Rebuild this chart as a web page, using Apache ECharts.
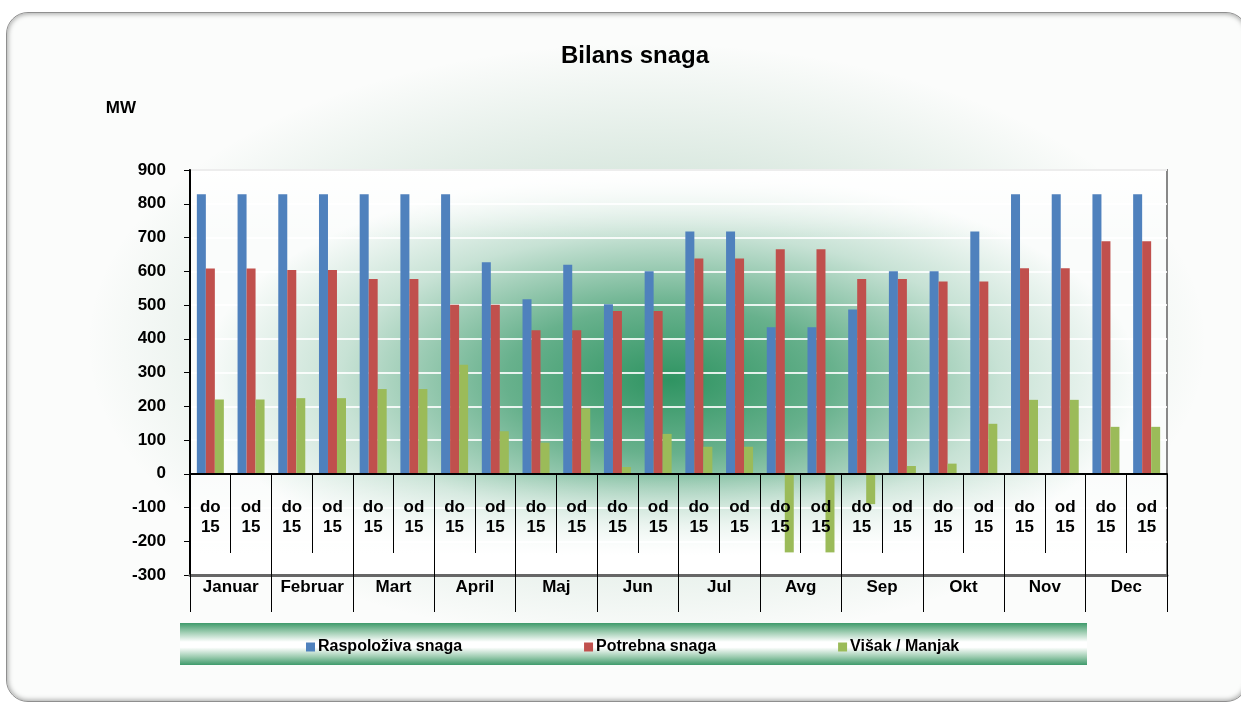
<!DOCTYPE html>
<html>
<head>
<meta charset="utf-8">
<title>Bilans snaga</title>
<script src="https://cdn.jsdelivr.net/npm/echarts@6/dist/echarts.min.js"></script>
<style>
  html, body { margin: 0; padding: 0; background: #fff; }
  #wrap { position: relative; width: 1241px; height: 706px; overflow: hidden; }
  #frame {
    position: absolute; left: 6px; top: 12px; width: 1240px; height: 688px;
    border-radius: 22px; border: 1px solid #8f8f8f;
    box-shadow: inset 0 0 5px 1px rgba(0,0,0,0.35);
    background:
      radial-gradient(ellipse 560px 300px at 640px 330px, rgba(60,140,95,0.45) 0%, rgba(60,140,95,0.22) 45%, rgba(255,255,255,0) 100%),
      #fbfcfb;
  }
  #plotbg {
    position: absolute; left: 190px; top: 170px; width: 977px; height: 405px;
    background:
      linear-gradient(to bottom, #fff 0px, rgba(255,255,255,0) 70px, rgba(255,255,255,0) 300px, #fff 385px),
      radial-gradient(ellipse 470px 210px at 480px 210px, #2f9462 0%, rgba(47,148,98,0.72) 35%, rgba(47,148,98,0.25) 70%, rgba(47,148,98,0) 100%),
      #fafcfb;
  }
  #legendbg {
    position: absolute; left: 180px; top: 623px; width: 907px; height: 42px;
    background: linear-gradient(to bottom, #3f9a6b 0%, #9fcdb2 22%, #ffffff 45%, #ffffff 58%, #9fcdb2 80%, #3f9a6b 100%);
  }
  #chart { position: absolute; left: 0; top: 0; width: 1241px; height: 706px; }
</style>
</head>
<body>
<div id="wrap">
  <div id="frame"></div>
  <div id="plotbg"></div>
  <div id="legendbg"></div>
  <div id="chart"></div>
</div>
<script>
// podaci
const months = ["Januar", "Februar", "Mart", "April", "Maj", "Jun", "Jul", "Avg", "Sep", "Okt", "Nov", "Dec"];
const halves = [];
months.forEach(function () { halves.push("do\n15", "od\n15"); });
const raspoloziva = [828, 828, 828, 828, 828, 828, 828, 627, 517, 619, 502, 600, 718, 718, 434, 434, 487, 600, 600, 718, 828, 828, 828, 828];
const potrebna = [608, 608, 604, 604, 577, 577, 501, 501, 425, 425, 482, 482, 638, 638, 665, 665, 577, 577, 570, 570, 609, 609, 689, 689];
const visak = [220, 220, 224, 224, 251, 251, 323, 126, 92, 194, 20, 118, 80, 80, -233, -233, -90, 23, 30, 148, 219, 219, 139, 139];

const font = "'Liberation Sans', Arial, sans-serif";

let myChart = echarts.init(document.getElementById("chart"), null, { renderer: "canvas" });
myChart.setOption({
  animation: false,
  color: ["#4F81BD", "#C0504D", "#9BBB59"],
  textStyle: { fontFamily: font },
  title: {
    text: "Bilans snaga",
    left: 556,
    top: 39,
    textStyle: { fontSize: 24, fontWeight: "bold", color: "#000", fontFamily: font }
  },
  legend: {
    left: 301,
    top: 634,
    icon: "rect",
    itemWidth: 9,
    itemHeight: 9,
    itemGap: 122,
    textStyle: { fontSize: 16, fontWeight: "bold", color: "#000", fontFamily: font, padding: [0, 0, 0, -2] },
    data: ["Raspoloživa snaga", "Potrebna snaga", "Višak / Manjak"]
  },
  grid: {
    left: 190,
    top: 170,
    width: 977,
    height: 405,
    show: true,
    backgroundColor: "transparent",
    borderColor: "#888888",
    borderWidth: 2
  },
  xAxis: [
    {
      // polovine mjeseca, os na nuli (-300 .. 0 = 101 px)
      type: "category",
      data: halves,
      position: "bottom",
      offset: -101,
      z: 5,
      axisLine: { show: true, onZero: false, lineStyle: { color: "#000", width: 2 } },
      axisTick: { show: true, interval: 0, length: 79, lineStyle: { color: "#000", width: 1 } },
      axisLabel: {
        interval: 0,
        margin: 23,
        fontSize: 17,
        fontWeight: "bold",
        lineHeight: 20,
        color: "#000",
        fontFamily: font
      }
    },
    {
      type: "category",
      data: months,
      position: "bottom",
      z: 5,
      axisLine: { show: true, onZero: false, lineStyle: { color: "#666", width: 3 } },
      axisTick: { show: true, interval: 0, length: 37, lineStyle: { color: "#000", width: 1 } },
      axisLabel: {
        interval: 0,
        margin: 4,
        fontSize: 17,
        fontWeight: "bold",
        color: "#000",
        fontFamily: font
      }
    },
    {
      type: "category",
      data: months,
      position: "bottom",
      z: 5,
      axisLine: { show: false, onZero: false },
      axisTick: { show: true, inside: true, interval: 0, length: 101, lineStyle: { color: "#000", width: 1 } },
      axisLabel: { show: false }
    }
  ],
  yAxis: {
    type: "value",
    min: -300,
    max: 900,
    interval: 100,
    name: "MW",
    nameLocation: "end",
    nameGap: 53,
    nameTextStyle: { align: "right", padding: [0, 54, 0, 0], fontSize: 17, fontWeight: "bold", color: "#000", fontFamily: font },
    axisLine: { show: true, lineStyle: { color: "#000", width: 2 } },
    axisTick: { show: true, length: 6, lineStyle: { color: "#000" } },
    axisLabel: { margin: 24, fontSize: 17, fontWeight: "bold", color: "#000", fontFamily: font },
    splitLine: { show: true, lineStyle: { color: "rgba(255,255,255,0.85)", width: 2 } }
  },
  series: [
    { name: "Raspoloživa snaga", type: "bar", xAxisIndex: 0, barWidth: 9, barGap: "0%", data: raspoloziva },
    { name: "Potrebna snaga", type: "bar", xAxisIndex: 0, barWidth: 9, barGap: "0%", data: potrebna },
    { name: "Višak / Manjak", type: "bar", xAxisIndex: 0, barWidth: 9, barGap: "0%", data: visak }
  ]
});
</script>
</body>
</html>
